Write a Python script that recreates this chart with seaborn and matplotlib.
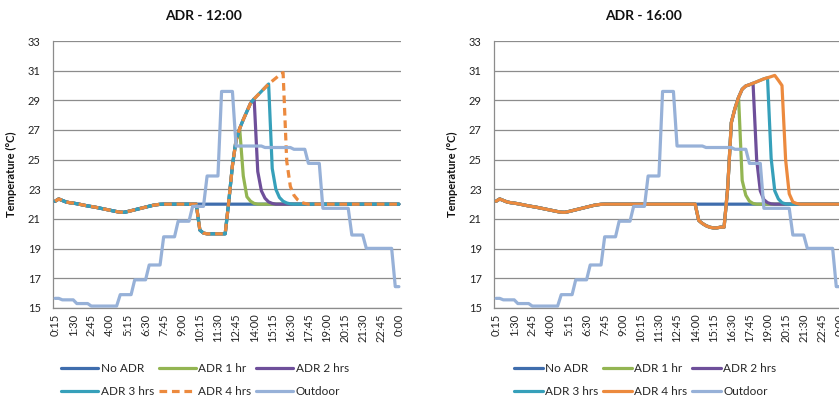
import matplotlib
matplotlib.use("Agg")
import matplotlib.pyplot as plt
import seaborn as sns

sns.set_theme(style="white")
plt.rcParams["font.family"] = ["Lato", "DejaVu Sans"]

# 15-minute intervals from 0:15 to 0:00 (96 steps); a label every 5th step
tick_labels = ["0:15", "1:30", "2:45", "4:00", "5:15", "6:30", "7:45", "9:00",
               "10:15", "11:30", "12:45", "14:00", "15:15", "16:30", "17:45",
               "19:00", "20:15", "21:30", "22:45", "0:00"]

series_names = ["No ADR", "ADR 1 hr", "ADR 2 hrs", "ADR 3 hrs", "ADR 4 hrs", "Outdoor"]

no_adr = [
    22.20, 22.35, 22.25, 22.15, 22.10, 22.07, 22.03, 21.98, 21.93, 21.88, 21.84, 21.80,
    21.75, 21.70, 21.65, 21.60, 21.55, 21.50, 21.46, 21.45, 21.50, 21.56, 21.62, 21.68,
    21.74, 21.80, 21.86, 21.92, 21.96, 21.99, 22.00, 22.00, 22.00, 22.00, 22.00, 22.00,
    22.00, 22.00, 22.00, 22.00, 22.00, 22.00, 22.00, 22.00, 22.00, 22.00, 22.00, 22.00,
    22.00, 22.00, 22.00, 22.00, 22.00, 22.00, 22.00, 22.00, 22.00, 22.00, 22.00, 22.00,
    22.00, 22.00, 22.00, 22.00, 22.00, 22.00, 22.00, 22.00, 22.00, 22.00, 22.00, 22.00,
    22.00, 22.00, 22.00, 22.00, 22.00, 22.00, 22.00, 22.00, 22.00, 22.00, 22.00, 22.00,
    22.00, 22.00, 22.00, 22.00, 22.00, 22.00, 22.00, 22.00, 22.00, 22.00, 22.00, 22.00,
]

outdoor = [
    15.65, 15.65, 15.55, 15.55, 15.55, 15.55, 15.30, 15.30, 15.30, 15.30, 15.13, 15.13,
    15.13, 15.13, 15.13, 15.13, 15.13, 15.13, 15.90, 15.90, 15.90, 15.90, 16.90, 16.90,
    16.90, 16.90, 17.90, 17.90, 17.90, 17.90, 19.80, 19.80, 19.80, 19.80, 20.85, 20.85,
    20.85, 20.85, 21.85, 21.85, 21.85, 21.85, 23.90, 23.90, 23.90, 23.90, 29.60, 29.60,
    29.60, 29.60, 25.92, 25.92, 25.92, 25.92, 25.92, 25.92, 25.92, 25.92, 25.82, 25.82,
    25.82, 25.82, 25.82, 25.82, 25.82, 25.82, 25.70, 25.70, 25.70, 25.70, 24.75, 24.75,
    24.75, 24.75, 21.72, 21.72, 21.72, 21.72, 21.72, 21.72, 21.72, 21.72, 19.92, 19.92,
    19.92, 19.92, 19.02, 19.02, 19.02, 19.02, 19.02, 19.02, 19.02, 19.02, 16.44, 16.44,
]

# ADR event starting at 12:00 (pre-cooling from 10:00)
noon_1hr = [
    22.20, 22.35, 22.25, 22.15, 22.10, 22.07, 22.03, 21.98, 21.93, 21.88, 21.84, 21.80,
    21.75, 21.70, 21.65, 21.60, 21.55, 21.50, 21.46, 21.45, 21.50, 21.56, 21.62, 21.68,
    21.74, 21.80, 21.86, 21.92, 21.96, 21.99, 22.00, 22.00, 22.00, 22.00, 22.00, 22.00,
    22.00, 22.00, 22.00, 22.00, 20.25, 20.05, 20.00, 20.00, 20.00, 20.00, 20.00, 20.00,
    22.20, 24.60, 26.30, 27.10, 23.90, 22.50, 22.20, 22.05, 22.00, 22.00, 22.00, 22.00,
    22.00, 22.00, 22.00, 22.00, 22.00, 22.00, 22.00, 22.00, 22.00, 22.00, 22.00, 22.00,
    22.00, 22.00, 22.00, 22.00, 22.00, 22.00, 22.00, 22.00, 22.00, 22.00, 22.00, 22.00,
    22.00, 22.00, 22.00, 22.00, 22.00, 22.00, 22.00, 22.00, 22.00, 22.00, 22.00, 22.00,
]
noon_2hr = [
    22.20, 22.35, 22.25, 22.15, 22.10, 22.07, 22.03, 21.98, 21.93, 21.88, 21.84, 21.80,
    21.75, 21.70, 21.65, 21.60, 21.55, 21.50, 21.46, 21.45, 21.50, 21.56, 21.62, 21.68,
    21.74, 21.80, 21.86, 21.92, 21.96, 21.99, 22.00, 22.00, 22.00, 22.00, 22.00, 22.00,
    22.00, 22.00, 22.00, 22.00, 20.25, 20.05, 20.00, 20.00, 20.00, 20.00, 20.00, 20.00,
    22.20, 24.60, 26.30, 27.10, 27.70, 28.25, 28.80, 29.10, 24.20, 22.90, 22.40, 22.15,
    22.05, 22.00, 22.00, 22.00, 22.00, 22.00, 22.00, 22.00, 22.00, 22.00, 22.00, 22.00,
    22.00, 22.00, 22.00, 22.00, 22.00, 22.00, 22.00, 22.00, 22.00, 22.00, 22.00, 22.00,
    22.00, 22.00, 22.00, 22.00, 22.00, 22.00, 22.00, 22.00, 22.00, 22.00, 22.00, 22.00,
]
noon_3hr = [
    22.20, 22.35, 22.25, 22.15, 22.10, 22.07, 22.03, 21.98, 21.93, 21.88, 21.84, 21.80,
    21.75, 21.70, 21.65, 21.60, 21.55, 21.50, 21.46, 21.45, 21.50, 21.56, 21.62, 21.68,
    21.74, 21.80, 21.86, 21.92, 21.96, 21.99, 22.00, 22.00, 22.00, 22.00, 22.00, 22.00,
    22.00, 22.00, 22.00, 22.00, 20.25, 20.05, 20.00, 20.00, 20.00, 20.00, 20.00, 20.00,
    22.20, 24.60, 26.30, 27.10, 27.70, 28.25, 28.80, 29.10, 29.35, 29.60, 29.85, 30.10,
    24.40, 23.00, 22.45, 22.20, 22.08, 22.02, 22.00, 22.00, 22.00, 22.00, 22.00, 22.00,
    22.00, 22.00, 22.00, 22.00, 22.00, 22.00, 22.00, 22.00, 22.00, 22.00, 22.00, 22.00,
    22.00, 22.00, 22.00, 22.00, 22.00, 22.00, 22.00, 22.00, 22.00, 22.00, 22.00, 22.00,
]
noon_4hr = [
    22.20, 22.35, 22.25, 22.15, 22.10, 22.07, 22.03, 21.98, 21.93, 21.88, 21.84, 21.80,
    21.75, 21.70, 21.65, 21.60, 21.55, 21.50, 21.46, 21.45, 21.50, 21.56, 21.62, 21.68,
    21.74, 21.80, 21.86, 21.92, 21.96, 21.99, 22.00, 22.00, 22.00, 22.00, 22.00, 22.00,
    22.00, 22.00, 22.00, 22.00, 20.25, 20.05, 20.00, 20.00, 20.00, 20.00, 20.00, 20.00,
    22.20, 24.60, 26.30, 27.10, 27.70, 28.25, 28.80, 29.10, 29.35, 29.60, 29.85, 30.10,
    30.30, 30.50, 30.70, 30.87, 24.90, 23.20, 22.60, 22.30, 22.12, 22.05, 22.00, 22.00,
    22.00, 22.00, 22.00, 22.00, 22.00, 22.00, 22.00, 22.00, 22.00, 22.00, 22.00, 22.00,
    22.00, 22.00, 22.00, 22.00, 22.00, 22.00, 22.00, 22.00, 22.00, 22.00, 22.00, 22.00,
]

# ADR event starting at 16:00 (pre-cooling from 14:00)
late_1hr = [
    22.20, 22.35, 22.25, 22.15, 22.10, 22.07, 22.03, 21.98, 21.93, 21.88, 21.84, 21.80,
    21.75, 21.70, 21.65, 21.60, 21.55, 21.50, 21.46, 21.45, 21.50, 21.56, 21.62, 21.68,
    21.74, 21.80, 21.86, 21.92, 21.96, 21.99, 22.00, 22.00, 22.00, 22.00, 22.00, 22.00,
    22.00, 22.00, 22.00, 22.00, 22.00, 22.00, 22.00, 22.00, 22.00, 22.00, 22.00, 22.00,
    22.00, 22.00, 22.00, 22.00, 22.00, 22.00, 22.00, 22.00, 20.90, 20.70, 20.55, 20.45,
    20.40, 20.40, 20.45, 20.45, 23.10, 27.50, 28.45, 29.20, 23.60, 22.60, 22.20, 22.05,
    22.00, 22.00, 22.00, 22.00, 22.00, 22.00, 22.00, 22.00, 22.00, 22.00, 22.00, 22.00,
    22.00, 22.00, 22.00, 22.00, 22.00, 22.00, 22.00, 22.00, 22.00, 22.00, 22.00, 22.00,
]
late_2hr = [
    22.20, 22.35, 22.25, 22.15, 22.10, 22.07, 22.03, 21.98, 21.93, 21.88, 21.84, 21.80,
    21.75, 21.70, 21.65, 21.60, 21.55, 21.50, 21.46, 21.45, 21.50, 21.56, 21.62, 21.68,
    21.74, 21.80, 21.86, 21.92, 21.96, 21.99, 22.00, 22.00, 22.00, 22.00, 22.00, 22.00,
    22.00, 22.00, 22.00, 22.00, 22.00, 22.00, 22.00, 22.00, 22.00, 22.00, 22.00, 22.00,
    22.00, 22.00, 22.00, 22.00, 22.00, 22.00, 22.00, 22.00, 20.90, 20.70, 20.55, 20.45,
    20.40, 20.40, 20.45, 20.45, 23.10, 27.50, 28.45, 29.20, 29.75, 29.97, 30.05, 30.15,
    25.00, 22.90, 22.30, 22.10, 22.02, 22.00, 22.00, 22.00, 22.00, 22.00, 22.00, 22.00,
    22.00, 22.00, 22.00, 22.00, 22.00, 22.00, 22.00, 22.00, 22.00, 22.00, 22.00, 22.00,
]
late_3hr = [
    22.20, 22.35, 22.25, 22.15, 22.10, 22.07, 22.03, 21.98, 21.93, 21.88, 21.84, 21.80,
    21.75, 21.70, 21.65, 21.60, 21.55, 21.50, 21.46, 21.45, 21.50, 21.56, 21.62, 21.68,
    21.74, 21.80, 21.86, 21.92, 21.96, 21.99, 22.00, 22.00, 22.00, 22.00, 22.00, 22.00,
    22.00, 22.00, 22.00, 22.00, 22.00, 22.00, 22.00, 22.00, 22.00, 22.00, 22.00, 22.00,
    22.00, 22.00, 22.00, 22.00, 22.00, 22.00, 22.00, 22.00, 20.90, 20.70, 20.55, 20.45,
    20.40, 20.40, 20.45, 20.45, 23.10, 27.50, 28.45, 29.20, 29.75, 29.97, 30.05, 30.15,
    30.25, 30.35, 30.45, 30.52, 25.10, 22.90, 22.35, 22.10, 22.02, 22.00, 22.00, 22.00,
    22.00, 22.00, 22.00, 22.00, 22.00, 22.00, 22.00, 22.00, 22.00, 22.00, 22.00, 22.00,
]
late_4hr = [
    22.20, 22.35, 22.25, 22.15, 22.10, 22.07, 22.03, 21.98, 21.93, 21.88, 21.84, 21.80,
    21.75, 21.70, 21.65, 21.60, 21.55, 21.50, 21.46, 21.45, 21.50, 21.56, 21.62, 21.68,
    21.74, 21.80, 21.86, 21.92, 21.96, 21.99, 22.00, 22.00, 22.00, 22.00, 22.00, 22.00,
    22.00, 22.00, 22.00, 22.00, 22.00, 22.00, 22.00, 22.00, 22.00, 22.00, 22.00, 22.00,
    22.00, 22.00, 22.00, 22.00, 22.00, 22.00, 22.00, 22.00, 20.90, 20.70, 20.55, 20.45,
    20.40, 20.40, 20.45, 20.45, 23.10, 27.50, 28.45, 29.20, 29.75, 29.97, 30.05, 30.15,
    30.25, 30.35, 30.45, 30.52, 30.60, 30.68, 30.35, 30.00, 25.00, 22.70, 22.15, 22.05,
    22.00, 22.00, 22.00, 22.00, 22.00, 22.00, 22.00, 22.00, 22.00, 22.00, 22.00, 22.00,
]

colors = ["#3F6DAD", "#93B552", "#6E4F9A", "#36A0BA", "#EC8A3E", "#97B1D8"]
grid_color = "#8C8C8C"

W, H = 839, 403
fig = plt.figure(figsize=(W / 100, H / 100), dpi=100)
ax_left = fig.add_axes([53.3 / W, 95 / H, 347.4 / W, 267 / H])
ax_right = fig.add_axes([494.3 / W, 95 / H, 347.4 / W, 267 / H])

panels = [
    (ax_left, "ADR - 12:00", [no_adr, noon_1hr, noon_2hr, noon_3hr, noon_4hr, outdoor],
     True, 203.5, 205, 3.15),
    (ax_right, "ADR - 16:00", [no_adr, late_1hr, late_2hr, late_3hr, late_4hr, outdoor],
     False, 643.7, 645, 2.45),
]

steps = list(range(len(no_adr)))

for ax, title, data, dashed_last, title_x, legend_x, hlen in panels:
    handles = []
    for k, (name, vals, col) in enumerate(zip(series_names, data, colors)):
        sns.lineplot(x=steps, y=vals, ax=ax, color=col, linewidth=2.3,
                     legend=False, zorder=2 + k)
        line = ax.lines[-1]
        line.set_label(name)
        line.set_solid_joinstyle("round")
        if dashed_last and name == "ADR 4 hrs":
            line.set_linestyle((0, (2.4, 1.5)))
            line.set_dash_capstyle("butt")
        handles.append(line)

    ax.set_xlim(-0.5, 95.5)
    ax.set_ylim(15, 33)
    ax.set_yticks(range(15, 34, 2))
    ax.set_xticks(range(0, 96, 5))
    ax.set_xticklabels(tick_labels, rotation=90, fontsize=8, color="#222222")
    ax.tick_params(axis="y", labelsize=8, labelcolor="#222222", length=0, pad=9)
    ax.tick_params(axis="x", length=0, pad=4)
    ax.grid(axis="y", color=grid_color, linewidth=0.9, zorder=0)
    ax.set_axisbelow(True)
    for side in ["top", "right"]:
        ax.spines[side].set_visible(False)
    for side in ["left", "bottom"]:
        ax.spines[side].set_color(grid_color)
        ax.spines[side].set_linewidth(0.9)
    ax.set_xlabel("")
    ax.set_ylabel("Temperature (\u00b0C)", fontsize=8, fontweight="bold", color="#111111")
    ax.yaxis.set_label_coords(-0.104, 0.5)

    fig.text(title_x / W, 1 - 15.5 / H, title, ha="center", va="center",
             fontsize=10, fontweight="bold", color="#111111")

    order = [0, 3, 1, 4, 2, 5]
    fig.legend([handles[i] for i in order], [series_names[i] for i in order],
               loc="center", bbox_to_anchor=(legend_x / W, 1 - 380 / H),
               ncol=3, frameon=False, fontsize=8.5, handlelength=hlen,
               handletextpad=0.2, columnspacing=0.4, labelspacing=1.0,
               borderaxespad=0, borderpad=0)

fig.savefig("out.png", dpi=100)
